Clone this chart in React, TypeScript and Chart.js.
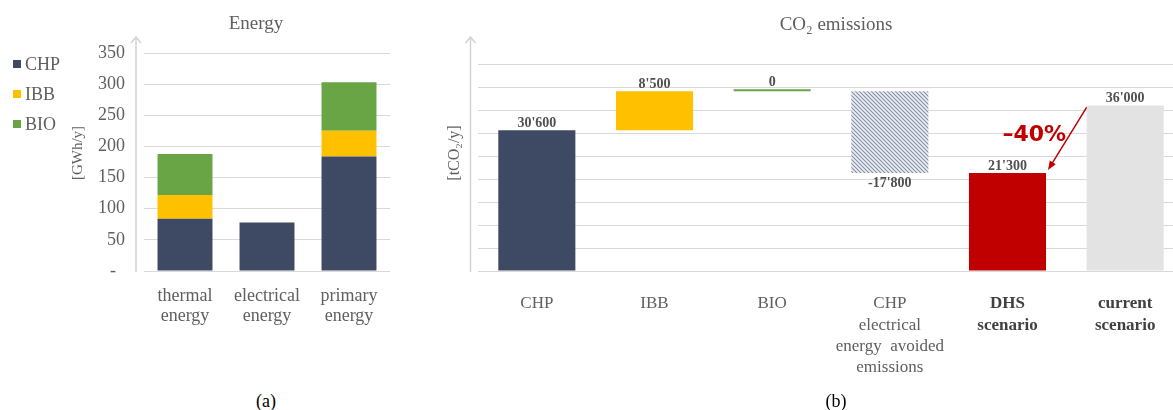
import React, { useEffect, useRef } from "react";
import { Chart, registerables } from "chart.js";
Chart.register(...registerables);

// ---------- data ----------
const energyCategories = [["thermal", "energy"], ["electrical", "energy"], ["primary", "energy"]];
const energySeriesNames = ["CHP", "IBB", "BIO"];
const energyCHP = [84, 78, 184];
const energyIBB = [38, 0, 41];
const energyBIO = [66, 0, 78];
const energyMax = 350;
const energyStep = 50;

const co2Categories = [
  ["CHP"],
  ["IBB"],
  ["BIO"],
  ["CHP", "electrical", "energy  avoided", "emissions"],
  ["DHS", "scenario"],
  ["current", "scenario"],
];
const co2Values = [30600, 8500, 0, -17800, 21300, 36000];
const co2Kinds = ["delta", "delta", "delta", "delta", "total", "total"];
const co2Max = 45000;
const co2Step = 5000;
const reductionLabel = "–40%";

// ---------- styles ----------
const SERIF = "'Liberation Serif', 'Times New Roman', serif";
const GREY = "#5f5f5f";
const GRID = "#d9d9d9";
const C_CHP = "#3e4a63";
const C_IBB = "#ffc000";
const C_BIO = "#69a544";
const C_DHS = "#c00000";
const C_CUR = "#e3e3e3";

function fmt(v: number) {
  const s = Math.abs(v).toString().replace(/\B(?=(\d{3})+(?!\d))/g, "'");
  return (v < 0 ? "-" : "") + s;
}

function drawAxisArrow(ctx: CanvasRenderingContext2D, x: number, top: number, bottom: number) {
  ctx.save();
  ctx.strokeStyle = "#d4d4d4";
  ctx.lineWidth = 1.5;
  ctx.beginPath();
  ctx.moveTo(x, bottom);
  ctx.lineTo(x, top);
  ctx.moveTo(x - 5, top + 6);
  ctx.lineTo(x, top);
  ctx.lineTo(x + 5, top + 6);
  ctx.stroke();
  ctx.restore();
}

function drawRotated(ctx: CanvasRenderingContext2D, text: string, x: number, y: number, font: string) {
  ctx.save();
  ctx.translate(x, y);
  ctx.rotate(-Math.PI / 2);
  ctx.font = font;
  ctx.fillStyle = GREY;
  ctx.textAlign = "center";
  ctx.textBaseline = "middle";
  ctx.fillText(text, 0, 0);
  ctx.restore();
}

const energyDecor = {
  id: "energyDecor",
  afterDraw(chart: any) {
    const ctx = chart.ctx as CanvasRenderingContext2D;
    const a = chart.chartArea;
    drawAxisArrow(ctx, a.left - 8, 37, a.bottom + 1);
    drawRotated(ctx, "[GWh/y]", 78, 153, `15px ${SERIF}`);
    ctx.save();
    ctx.font = `19px ${SERIF}`;
    ctx.fillStyle = GREY;
    ctx.textAlign = "center";
    ctx.textBaseline = "alphabetic";
    ctx.fillText("Energy", 256, 29);
    // legend
    chart.data.datasets.forEach((ds: any, i: number) => {
      const y = 64 + i * 30;
      ctx.fillStyle = ds.backgroundColor;
      ctx.fillRect(13, y - 4, 8, 8);
      ctx.fillStyle = GREY;
      ctx.font = `18px ${SERIF}`;
      ctx.textAlign = "left";
      ctx.textBaseline = "middle";
      ctx.fillText(ds.label, 25, y + 1);
    });
    ctx.restore();
  },
};

const co2Decor = {
  id: "co2Decor",
  afterDatasetsDraw(chart: any) {
    const ctx = chart.ctx as CanvasRenderingContext2D;
    const a = chart.chartArea;
    drawAxisArrow(ctx, a.left - 7.5, 37, a.bottom + 1);
    drawRotated(ctx, "[tCO₂/y]", 35, 153, `16px ${SERIF}`);
    ctx.save();
    ctx.font = `19px ${SERIF}`;
    ctx.fillStyle = GREY;
    ctx.textAlign = "center";
    ctx.textBaseline = "alphabetic";
    ctx.fillText("CO₂ emissions", 416, 29.5);

    const meta = chart.getDatasetMeta(0);
    ctx.font = `bold 14px ${SERIF}`;
    ctx.fillStyle = "#505050";
    ctx.textBaseline = "middle";
    meta.data.forEach((el: any, i: number) => {
      const v = co2Values[i];
      const top = Math.min(el.y, el.base);
      const bot = Math.max(el.y, el.base);
      if (v < 0) ctx.fillText(fmt(v), el.x, bot + 10);
      else ctx.fillText(fmt(v), el.x, top - 7);
    });

    // reduction arrow
    const dhs = meta.data[4];
    const cur = meta.data[5];
    const x0 = cur.x - cur.width / 2;
    const y0 = Math.min(cur.y, cur.base) + 2;
    const x1 = dhs.x + dhs.width / 2 + 2;
    const y1 = Math.min(dhs.y, dhs.base) - 3;
    ctx.strokeStyle = C_DHS;
    ctx.fillStyle = C_DHS;
    ctx.lineWidth = 1.5;
    const ang = Math.atan2(y1 - y0, x1 - x0);
    const hl = 9;
    ctx.beginPath();
    ctx.moveTo(x0, y0);
    ctx.lineTo(x1 - Math.cos(ang) * hl * 0.8, y1 - Math.sin(ang) * hl * 0.8);
    ctx.stroke();
    ctx.beginPath();
    ctx.moveTo(x1, y1);
    ctx.lineTo(x1 - hl * Math.cos(ang) + 3.5 * Math.sin(ang), y1 - hl * Math.sin(ang) - 3.5 * Math.cos(ang));
    ctx.lineTo(x1 - hl * Math.cos(ang) - 3.5 * Math.sin(ang), y1 - hl * Math.sin(ang) + 3.5 * Math.cos(ang));
    ctx.closePath();
    ctx.fill();
    ctx.font = `bold 22px 'DejaVu Sans', Verdana, sans-serif`;
    ctx.textAlign = "center";
    ctx.textBaseline = "middle";
    ctx.fillText(reductionLabel, (x0 + x1) / 2 - 33, (y0 + y1) / 2 - 3);
    ctx.restore();
  },
};

function makeHatch(): CanvasPattern | string {
  const c = document.createElement("canvas");
  c.width = 4;
  c.height = 4;
  const g = c.getContext("2d");
  if (!g) return "#b4bccb";
  g.fillStyle = "#eef0f4";
  g.fillRect(0, 0, 4, 4);
  g.strokeStyle = "#8792aa";
  g.lineWidth = 1.2;
  g.beginPath();
  g.moveTo(-1, -1);
  g.lineTo(5, 5);
  g.moveTo(3, -1);
  g.lineTo(5, 1);
  g.moveTo(-1, 3);
  g.lineTo(1, 5);
  g.stroke();
  const p = g.createPattern(c, "repeat");
  return p || "#b4bccb";
}

export default function App() {
  const leftRef = useRef<HTMLCanvasElement>(null);
  const rightRef = useRef<HTMLCanvasElement>(null);

  useEffect(() => {
    if (!leftRef.current || !rightRef.current) return;

    const energyData = [energyCHP, energyIBB, energyBIO];
    const energyColors = [C_CHP, C_IBB, C_BIO];
    const left = new Chart(leftRef.current, {
      type: "bar",
      data: {
        labels: energyCategories as any,
        datasets: energySeriesNames.map((n, i) => ({
          label: n,
          data: energyData[i],
          backgroundColor: energyColors[i],
          borderWidth: 0,
          barPercentage: 0.67,
          categoryPercentage: 1,
        })),
      },
      options: {
        animation: false,
        responsive: false,
        maintainAspectRatio: false,
        layout: { padding: { left: 0, right: 40, top: 53, bottom: 0 } },
        plugins: { legend: { display: false }, title: { display: false }, tooltip: { enabled: false } },
        scales: {
          x: {
            stacked: true,
            grid: { display: false, drawTicks: false, tickLength: 0 },
            border: { display: false },
            ticks: {
              padding: 15,
              color: GREY,
              font: { family: SERIF, size: 18, lineHeight: 1.12 },
              maxRotation: 0,
              autoSkip: false,
            },
            afterFit: (s: any) => {
              s.height = 60;
            },
          },
          y: {
            stacked: true,
            min: 0,
            max: energyMax,
            grid: { color: GRID, drawTicks: false, tickLength: 0 },
            border: { display: false },
            ticks: {
              stepSize: energyStep,
              padding: 19,
              color: GREY,
              font: { family: SERIF, size: 18 },
              callback: (v: any) => (Number(v) === 0 ? "-  " : String(v)),
            },
            afterFit: (s: any) => {
              s.width = 144;
            },
          },
        },
      } as any,
      plugins: [energyDecor],
    });

    let run = 0;
    const ranges = co2Values.map((v, i) => {
      if (co2Kinds[i] === "total") return [0, v];
      const r = [run, run + v];
      run += v;
      return [Math.min(r[0], r[1]), Math.max(r[0], r[1])];
    });
    const hatch = makeHatch();
    const co2Colors = [C_CHP, C_IBB, C_BIO, hatch, C_DHS, C_CUR];

    const right = new Chart(rightRef.current, {
      type: "bar",
      data: {
        labels: co2Categories as any,
        datasets: [
          {
            label: "CO2",
            data: ranges as any,
            backgroundColor: co2Colors as any,
            borderWidth: 0,
            minBarLength: 2,
            barPercentage: 0.655,
            categoryPercentage: 1,
          },
        ],
      },
      options: {
        animation: false,
        responsive: false,
        maintainAspectRatio: false,
        layout: { padding: { left: 0, right: 6, top: 64, bottom: 0 } },
        plugins: { legend: { display: false }, title: { display: false }, tooltip: { enabled: false } },
        scales: {
          x: {
            grid: { display: false, drawTicks: false, tickLength: 0 },
            border: { display: false },
            ticks: {
              padding: 22,
              maxRotation: 0,
              autoSkip: false,
              color: (c: any) => (c.index >= 4 ? "#404040" : GREY),
              font: (c: any) => ({
                family: SERIF,
                size: 17,
                lineHeight: 1.26,
                weight: c.index >= 4 ? "bold" : "normal",
              }),
            },
            afterFit: (s: any) => {
              s.height = 129;
            },
          },
          y: {
            min: 0,
            max: co2Max,
            grid: { color: GRID, drawTicks: false, tickLength: 0 },
            border: { display: false },
            ticks: { stepSize: co2Step, display: false },
            afterFit: (s: any) => {
              s.width = 58;
            },
          },
        },
      } as any,
      plugins: [co2Decor],
    });

    return () => {
      left.destroy();
      right.destroy();
    };
  }, []);

  return (
    <div
      style={{
        position: "fixed",
        left: 0,
        top: 0,
        width: 1173,
        height: 410,
        overflow: "hidden",
        background: "#ffffff",
        fontFamily: SERIF,
      }}
    >
      <canvas
        ref={leftRef}
        width={430}
        height={331}
        style={{ position: "absolute", left: 0, top: 0, width: 430, height: 331 }}
      />
      <canvas
        ref={rightRef}
        width={770}
        height={400}
        style={{ position: "absolute", left: 420, top: 0, width: 770, height: 400 }}
      />
      <div
        style={{
          position: "absolute",
          left: 266,
          top: 401,
          transform: "translate(-50%, -50%)",
          fontSize: 18,
          color: "#000",
        }}
      >
        (a)
      </div>
      <div
        style={{
          position: "absolute",
          left: 836,
          top: 401,
          transform: "translate(-50%, -50%)",
          fontSize: 18,
          color: "#000",
        }}
      >
        (b)
      </div>
    </div>
  );
}
